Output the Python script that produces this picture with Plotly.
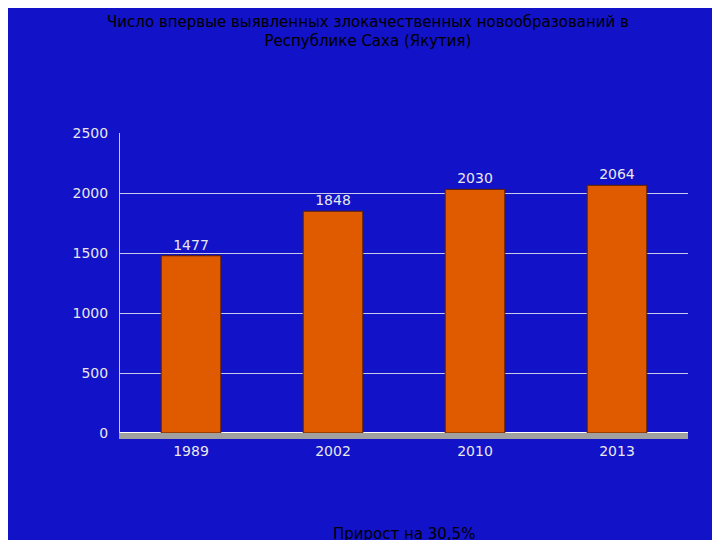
import plotly.graph_objects as go

years = ["1989", "2002", "2010", "2013"]
cases = [1477, 1848, 2030, 2064]
y_ticks = [0, 500, 1000, 1500, 2000, 2500]

fig = go.Figure()
fig.add_trace(go.Bar(
    x=years, y=cases, width=0.42,
    marker=dict(color="#e05a00", line=dict(color="#5a2000", width=1)),
    text=[str(v) for v in cases], textposition="outside",
    textfont=dict(color="#e8e8e8", size=14, family="DejaVu Sans"),
    cliponaxis=False,
))

fig.update_layout(
    width=720, height=540,
    paper_bgcolor="#1212c8", plot_bgcolor="#1212c8",
    margin=dict(l=112, r=40, t=125, b=115),
    showlegend=False,
    title=dict(
        text="Число впервые выявленных злокачественных новообразований в<br>Республике Саха (Якутия)",
        x=0.5, y=0.965, xanchor="center",
        font=dict(color="black", size=15, family="DejaVu Sans"),
    ),
    xaxis=dict(
        tickfont=dict(color="#e8e8e8", size=14, family="DejaVu Sans"),
        showline=True, linecolor="#a0a0a0", linewidth=6,
    ),
    yaxis=dict(
        range=[0, 2500], tickvals=y_ticks,
        tickfont=dict(color="#e8e8e8", size=14, family="DejaVu Sans"),
        ticks="outside", ticklen=8, tickcolor="#1212c8",
        showgrid=True, gridcolor="#c8c8e8", gridwidth=1,
        showline=True, linecolor="#c8c8e8",
    ),
    annotations=[dict(
        text="Прирост на 30,5%", x=0.5, y=-0.3, xref="paper", yref="paper",
        yanchor="top", xanchor="center", showarrow=False,
        font=dict(color="black", size=15, family="DejaVu Sans"),
    )],
)

fig.write_html("out.html")
